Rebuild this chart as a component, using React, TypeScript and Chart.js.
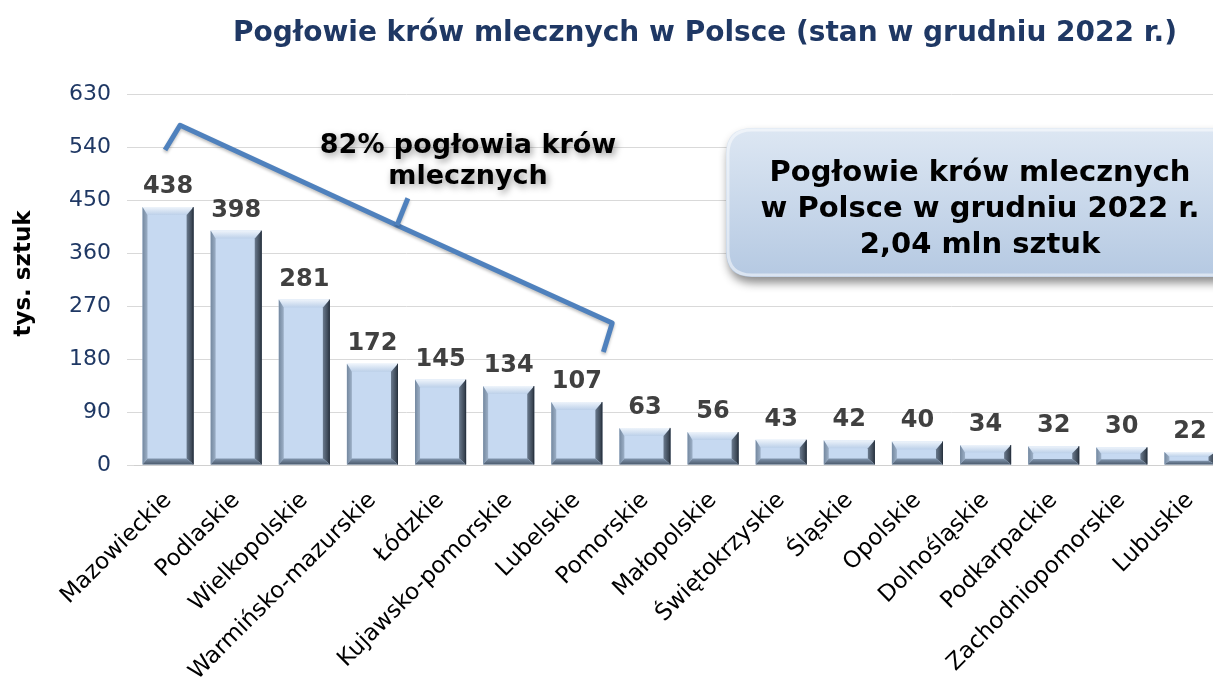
import { useEffect, useRef } from 'react';
import { Chart, registerables } from 'chart.js';

Chart.register(...registerables);

const FONT = "'DejaVu Sans', Verdana, sans-serif";

const categories = [
  'Mazowieckie', 'Podlaskie', 'Wielkopolskie', 'Warmińsko-mazurskie', 'Łódzkie',
  'Kujawsko-pomorskie', 'Lubelskie', 'Pomorskie', 'Małopolskie', 'Świętokrzyskie',
  'Śląskie', 'Opolskie', 'Dolnośląskie', 'Podkarpackie', 'Zachodniopomorskie', 'Lubuskie',
];
const values = [438, 398, 281, 172, 145, 134, 107, 63, 56, 43, 42, 40, 34, 32, 30, 22];
const yTicks = [0, 90, 180, 270, 360, 450, 540, 630];

const chartTitle = 'Pogłowie krów mlecznych w Polsce (stan w grudniu 2022 r.)';
const yAxisTitle = 'tys. sztuk';
const boxLines = ['Pogłowie krów mlecznych', 'w Polsce w grudniu 2022 r.', '2,04 mln sztuk'];
const bracketLines = ['82% pogłowia krów', 'mlecznych'];
// bracket annotation in data space: [category index, value]
const bracketPath: [number, number][] = [[-0.044, 535], [0.176, 577], [3.36, 407], [6.52, 241], [6.39, 192]];
const bracketTip: [number, number] = [3.52, 453];

function roundRect(ctx: CanvasRenderingContext2D, x: number, y: number, w: number, h: number, r: number) {
  ctx.beginPath();
  ctx.moveTo(x + r, y);
  ctx.lineTo(x + w - r, y);
  ctx.quadraticCurveTo(x + w, y, x + w, y + r);
  ctx.lineTo(x + w, y + h - r);
  ctx.quadraticCurveTo(x + w, y + h, x + w - r, y + h);
  ctx.lineTo(x + r, y + h);
  ctx.quadraticCurveTo(x, y + h, x, y + h - r);
  ctx.lineTo(x, y + r);
  ctx.quadraticCurveTo(x, y, x + r, y);
  ctx.closePath();
}

function poly(ctx: CanvasRenderingContext2D, pts: number[][], fill: string | CanvasGradient) {
  ctx.beginPath();
  ctx.moveTo(pts[0][0], pts[0][1]);
  for (let i = 1; i < pts.length; i++) ctx.lineTo(pts[i][0], pts[i][1]);
  ctx.closePath();
  ctx.fillStyle = fill;
  ctx.fill();
}

const decor = {
  id: 'decor',
  beforeDraw(chart: any) {
    const ctx = chart.ctx;
    ctx.save();
    ctx.fillStyle = '#ffffff';
    ctx.fillRect(0, 0, chart.width, chart.height);
    ctx.restore();
  },
  afterDatasetsDraw(chart: any) {
    const ctx: CanvasRenderingContext2D = chart.ctx;
    const meta = chart.getDatasetMeta(0);
    const xs = chart.scales.x;
    const ys = chart.scales.y;

    // bevels on bars
    meta.data.forEach((el: any) => {
      const p = el.getProps(['x', 'y', 'base', 'width'], true);
      const L = p.x - p.width / 2;
      const R = p.x + p.width / 2;
      const T = p.y;
      const B = p.base;
      const h = B - T;
      const bt = Math.min(8, h * 0.38);
      const bb = Math.min(6, h * 0.3);
      const bl = 5;
      const br = 7;
      ctx.save();
      const gTop = ctx.createLinearGradient(0, T, 0, T + bt);
      gTop.addColorStop(0, '#eef4fb');
      gTop.addColorStop(1, '#bcd0e9');
      poly(ctx, [[L, T], [R, T], [R - br, T + bt], [L + bl, T + bt]], gTop);
      const gLeft = ctx.createLinearGradient(L, 0, L + bl, 0);
      gLeft.addColorStop(0, '#74889f');
      gLeft.addColorStop(1, '#9cafc6');
      poly(ctx, [[L, T], [L + bl, T + bt], [L + bl, B - bb], [L, B]], gLeft);
      const gRight = ctx.createLinearGradient(R - br, 0, R, 0);
      gRight.addColorStop(0, '#6a7a8e');
      gRight.addColorStop(1, '#2c3642');
      poly(ctx, [[R, T], [R, B], [R - br, B - bb], [R - br, T + bt]], gRight);
      const gBot = ctx.createLinearGradient(0, B - bb, 0, B);
      gBot.addColorStop(0, '#8296ae');
      gBot.addColorStop(1, '#4b5a6c');
      poly(ctx, [[L, B], [L + bl, B - bb], [R - br, B - bb], [R, B]], gBot);
      ctx.strokeStyle = 'rgba(40,50,62,0.8)';
      ctx.lineWidth = 1;
      ctx.beginPath();
      ctx.moveTo(R - 0.5, T);
      ctx.lineTo(R - 0.5, B);
      ctx.stroke();
      ctx.restore();
    });

    // data labels
    ctx.save();
    ctx.font = `bold 24px ${FONT}`;
    ctx.fillStyle = '#404040';
    ctx.textAlign = 'center';
    ctx.textBaseline = 'alphabetic';
    meta.data.forEach((el: any, i: number) => {
      ctx.fillText(String(values[i]), el.x, el.y - 14);
    });
    ctx.restore();

    // info box
    ctx.save();
    const bx = 726, by = 128, bw = 540, bh = 149;
    ctx.shadowColor = 'rgba(0,0,0,0.45)';
    ctx.shadowBlur = 10;
    ctx.shadowOffsetX = 2;
    ctx.shadowOffsetY = 6;
    const gBox = ctx.createLinearGradient(0, by, 0, by + bh);
    gBox.addColorStop(0, '#dde7f3');
    gBox.addColorStop(1, '#b5c9e2');
    roundRect(ctx, bx, by, bw, bh, 26);
    ctx.fillStyle = gBox;
    ctx.fill();
    ctx.restore();
    ctx.save();
    roundRect(ctx, bx + 2, by + 2, bw - 4, bh - 4, 24);
    ctx.strokeStyle = 'rgba(255,255,255,0.5)';
    ctx.lineWidth = 3;
    ctx.stroke();
    ctx.font = `bold 29px ${FONT}`;
    ctx.fillStyle = '#000000';
    ctx.textAlign = 'center';
    ctx.textBaseline = 'alphabetic';
    boxLines.forEach((t, i) => ctx.fillText(t, 980, 181 + i * 36));
    ctx.restore();

    // bracket
    ctx.save();
    ctx.strokeStyle = '#4F81BD';
    ctx.lineWidth = 5;
    ctx.lineJoin = 'round';
    ctx.lineCap = 'butt';
    ctx.shadowColor = 'rgba(0,0,0,0.25)';
    ctx.shadowBlur = 3;
    ctx.shadowOffsetY = 2;
    const pt = (q: [number, number]) => [xs.getPixelForValue(q[0]), ys.getPixelForValue(q[1])];
    ctx.beginPath();
    bracketPath.forEach((q, i) => {
      const [px, py] = pt(q);
      if (i === 0) ctx.moveTo(px, py); else ctx.lineTo(px, py);
    });
    ctx.stroke();
    const [mx, my] = pt(bracketPath[2]);
    const [tx, ty] = pt(bracketTip);
    ctx.beginPath();
    ctx.moveTo(mx, my);
    ctx.lineTo(tx, ty);
    ctx.stroke();
    ctx.restore();

    // bracket text
    ctx.save();
    ctx.font = `bold 27px ${FONT}`;
    ctx.fillStyle = '#000000';
    ctx.textAlign = 'center';
    ctx.shadowColor = 'rgba(0,0,0,0.4)';
    ctx.shadowBlur = 7;
    ctx.shadowOffsetX = 2;
    ctx.shadowOffsetY = 3;
    bracketLines.forEach((t, i) => ctx.fillText(t, 468, 153 + i * 31));
    ctx.restore();

    // chart title
    ctx.save();
    ctx.font = `bold 28px ${FONT}`;
    ctx.fillStyle = '#1F3864';
    ctx.textAlign = 'center';
    ctx.fillText(chartTitle, 705, 41);
    ctx.restore();

    // y axis title
    ctx.save();
    ctx.translate(30, (chart.chartArea.top + chart.chartArea.bottom) / 2 - 6);
    ctx.rotate(-Math.PI / 2);
    ctx.font = `bold 23px ${FONT}`;
    ctx.fillStyle = '#000000';
    ctx.textAlign = 'center';
    ctx.fillText(yAxisTitle, 0, 0);
    ctx.restore();
  },
};

export default function App() {
  const ref = useRef<HTMLCanvasElement | null>(null);
  useEffect(() => {
    if (!ref.current) return;
    const chart = new Chart(ref.current, {
      type: 'bar',
      data: {
        labels: categories,
        datasets: [{
          data: values,
          backgroundColor: '#C6D9F1',
          borderWidth: 0,
          barPercentage: 0.75,
          categoryPercentage: 1,
        }],
      },
      options: {
        animation: false,
        responsive: false,
        maintainAspectRatio: false,
        layout: { padding: { top: 94, right: 16, bottom: 0, left: 0 } },
        plugins: {
          legend: { display: false },
          tooltip: { enabled: false },
          title: { display: false },
        },
        scales: {
          x: {
            grid: { display: false, drawTicks: true, tickLength: 8 },
            border: { display: true, color: '#D0D0D0', width: 1 },
            ticks: {
              autoSkip: false,
              maxRotation: 45,
              minRotation: 45,
              padding: 14,
              color: '#000000',
              font: { family: FONT, size: 23 },
            },
            afterFit: (s: any) => { s.height = 217; },
          },
          y: {
            min: 0,
            max: 630,
            grid: { color: '#D9D9D9', tickLength: 7, drawTicks: true },
            border: { display: false },
            ticks: {
              color: '#1F3864',
              padding: 16,
              font: { family: FONT, size: 22 },
            },
            afterBuildTicks: (s: any) => { s.ticks = yTicks.map((v) => ({ value: v })); },
            afterFit: (s: any) => { s.width = 134; },
          },
        },
      } as any,
      plugins: [decor],
    });
    return () => chart.destroy();
  }, []);
  return (
    <div style={{ position: 'absolute', left: 0, top: 0, width: 1213, height: 682, overflow: 'hidden', background: '#fff' }}>
      <canvas ref={ref} width={1240} height={682} style={{ display: 'block' }} />
    </div>
  );
}
